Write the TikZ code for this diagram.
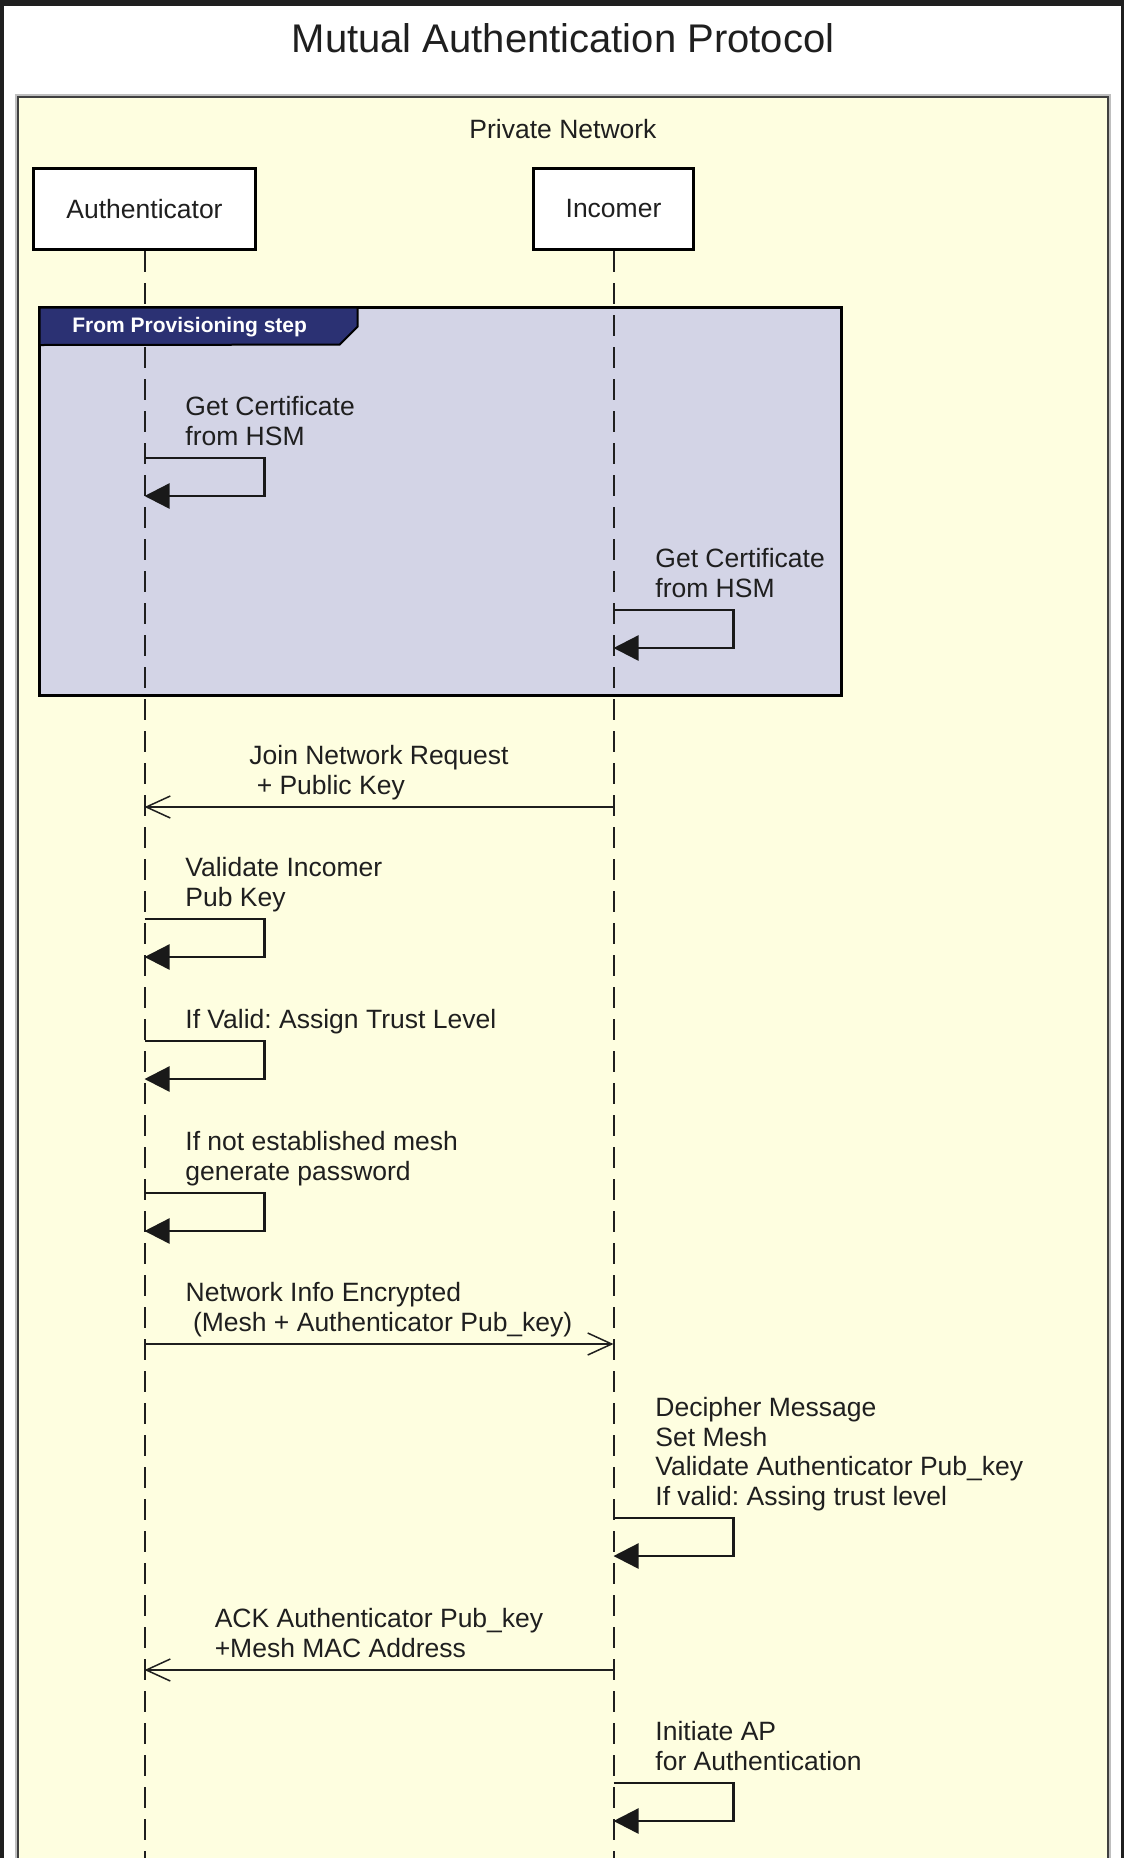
\documentclass[tikz,border=0pt]{standalone}
\usepackage{fontspec}
\setmainfont{Liberation Sans}
\usetikzlibrary{arrows.meta}
\frenchspacing
\definecolor{netfill}{HTML}{FEFEE0}
\definecolor{provfill}{HTML}{D3D4E6}
\definecolor{provtab}{HTML}{2B3173}
\definecolor{inkgray}{HTML}{1F1F1F}
\begin{document}
\begin{tikzpicture}
    [x=0.5pt, y=-0.5pt,
    every node/.style={text=inkgray, inner sep=0pt, font=\fontsize{13.25}{14.75}\selectfont},
    actor/.style={draw=black, line width=1.5pt, fill=white, minimum height=40.5pt},
    lifeline/.style={draw=inkgray, line width=1pt, dash pattern=on 10.5pt off 5.5pt},
    selfnote/.style={anchor=base west, align=left},
    msgnote/.style={anchor=base, align=left},
    selfcall/.style={draw=black!90, line width=1.2pt, -{Triangle[length=12.5pt, width=12.5pt]}},
    asyncmsg/.style={draw=inkgray, line width=0.75pt, -{Straight Barb[length=12pt, width=11pt]}}]
    \useasboundingbox (0,0) rectangle (1124,1858);
    \clip (0,0) rectangle (1124,1858);
    \fill[black!88] (0,0) rectangle (1124,1858);
    \fill[white] (4,6) rectangle (1121,1870);
    \node[anchor=base, font=\fontsize{20}{24}\selectfont] (title) at (563,52) {Mutual Authentication Protocol};
    % private network
    \draw[black!25, line width=1pt] (16,95) rectangle (1110,1880);
    \draw[black!75, line width=1pt, fill=netfill] (18,97) rectangle (1108,1880);
    \node[anchor=base] (privnet) at (563,138) {Private Network};
    \node[actor, minimum width=111pt] (auth) at (144.5,209) {Authenticator};
    \node[actor, minimum width=80pt] (incomer) at (613.5,209) {Incomer};
    % provisioning frame
    \node[fill=provfill, minimum width=400.5pt, minimum height=193.5pt] (provframe) at (440.5,501.5) {};
    \coordinate (authEnd) at (auth |- 0,1870);
    \coordinate (incEnd) at (incomer |- 0,1870);
    \draw[lifeline] (auth.south) -- (authEnd);
    \draw[lifeline] (incomer.south) -- (incEnd);
    \draw[black, line width=1.5pt] (provframe.north west) rectangle (provframe.south east);
    \draw[black, line width=1pt, fill=provtab] (provframe.north west) -- ++(318,0) -- ++(0,19) -- ++(-18,18) -- (provframe.north west |- 0,345) -- cycle;
    \node[anchor=base west, text=white, font=\bfseries\fontsize{10.5}{12}\selectfont] (provlabel) at (72,332) {From Provisioning step};
    % get certificate
    \coordinate (getA1) at (auth |- 0,458);
    \coordinate (getA2) at (auth |- 0,496);
    \draw[selfcall] (getA1) -- ++(120,0) |- (getA2);
    \node[selfnote] (getAnote) at (185,445) {Get Certificate\\from HSM};
    \coordinate (getI1) at (incomer |- 0,610);
    \coordinate (getI2) at (incomer |- 0,648);
    \draw[selfcall] (getI1) -- ++(120,0) |- (getI2);
    \node[selfnote] (getInote) at (655,597) {Get Certificate\\from HSM};
    % join request
    \coordinate (join1) at (incomer |- 0,807);
    \coordinate (join2) at (auth |- 0,807);
    \draw[asyncmsg] (join1) -- (join2);
    \node[msgnote] (joinnote) at (379,794) {Join Network Request\\\ + Public Key};
    % authenticator checks
    \coordinate (valid1) at (auth |- 0,919);
    \coordinate (valid2) at (auth |- 0,957);
    \draw[selfcall] (valid1) -- ++(120,0) |- (valid2);
    \node[selfnote] (validnote) at (185,906) {Validate Incomer\\Pub Key};
    \coordinate (trust1) at (auth |- 0,1041);
    \coordinate (trust2) at (auth |- 0,1079);
    \draw[selfcall] (trust1) -- ++(120,0) |- (trust2);
    \node[selfnote] (trustnote) at (185,1028) {If Valid: Assign Trust Level};
    \coordinate (pass1) at (auth |- 0,1193);
    \coordinate (pass2) at (auth |- 0,1231);
    \draw[selfcall] (pass1) -- ++(120,0) |- (pass2);
    \node[selfnote] (passnote) at (185,1180) {If not established mesh\\generate password};
    % network info
    \coordinate (info1) at (auth |- 0,1344);
    \coordinate (info2) at (incomer |- 0,1344);
    \draw[asyncmsg] (info1) -- (info2);
    \node[msgnote] (infonote) at (379,1331) {Network Info Encrypted\\\ (Mesh + Authenticator Pub\_key)};
    % incomer checks
    \coordinate (decip1) at (incomer |- 0,1518);
    \coordinate (decip2) at (incomer |- 0,1556);
    \draw[selfcall] (decip1) -- ++(120,0) |- (decip2);
    \node[selfnote] (decipnote) at (655,1505) {Decipher Message\\Set Mesh\\Validate Authenticator Pub\_key\\If valid: Assing trust level};
    \coordinate (ack1) at (incomer |- 0,1670);
    \coordinate (ack2) at (auth |- 0,1670);
    \draw[asyncmsg] (ack1) -- (ack2);
    \node[msgnote] (acknote) at (379,1657) {ACK Authenticator Pub\_key\\+Mesh MAC Address};
    \coordinate (ap1) at (incomer |- 0,1783);
    \coordinate (ap2) at (incomer |- 0,1821);
    \draw[selfcall] (ap1) -- ++(120,0) |- (ap2);
    \node[selfnote] (apnote) at (655,1770) {Initiate AP\\for Authentication};
\end{tikzpicture}
\end{document}
